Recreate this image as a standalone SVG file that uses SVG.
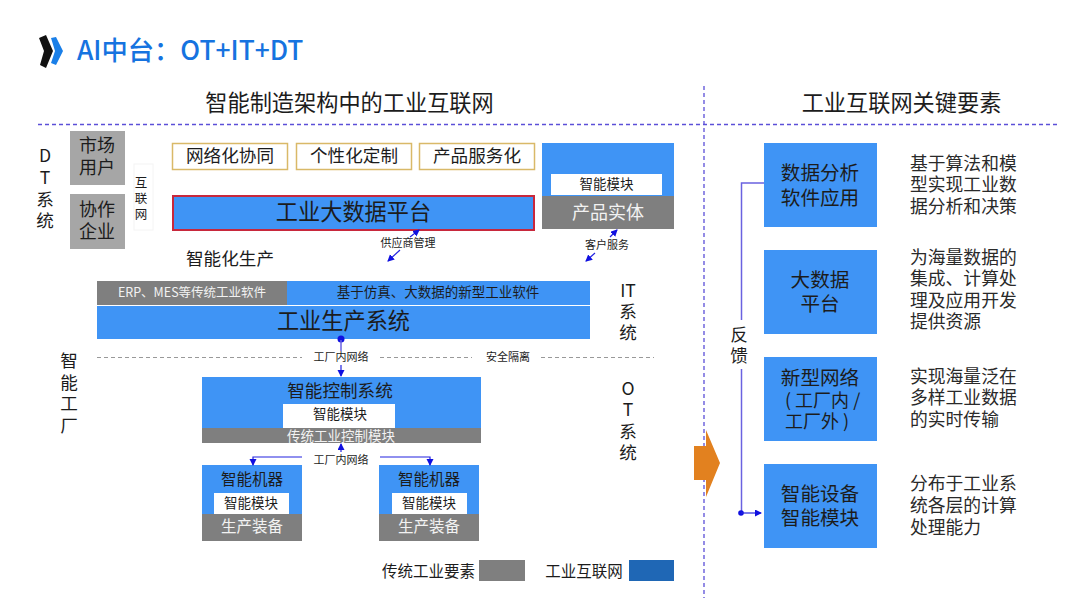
<svg xmlns="http://www.w3.org/2000/svg" width="1080" height="608" viewBox="0 0 1080 608">
<style>
text{font-family:"Noto Sans CJK SC","Noto Sans",sans-serif;fill:#1c1c1c;text-anchor:middle;dominant-baseline:central;transform:translateY(-1.8px)}
.blue{fill:#3f94f5}.gray{fill:#7f7f7f}.lg{fill:#a6a6a6}.white{fill:#fff}
.w{fill:#f2f2f2}
.opt{fill:#fff;stroke:#d9b968;stroke-width:1.5}
.s11{font-size:11px}.s12{font-size:12.5px}.s13{font-size:13.5px}.s15{font-size:15.5px}.s17{font-size:17.6px}.s18{font-size:18px}.s20{font-size:19.6px}.s22{font-size:22.2px}
.l{text-anchor:start;font-size:17.8px;fill:#2a2a2a}
.st{text-anchor:start}
.dash{fill:none;stroke:#5b4fd8;stroke-width:1.3;stroke-dasharray:4 3}
.gd{stroke:#999;stroke-width:1;stroke-dasharray:4 3;fill:none}
.c{fill:none;stroke:#2222e0;stroke-width:1.2}
.f{fill:none;stroke:#6a62e0;stroke-width:1.5}
</style>
<defs>
<marker id="a" markerWidth="8" markerHeight="8" refX="6" refY="3.5" orient="auto-start-reverse" markerUnits="userSpaceOnUse"><path d="M0 0L7 3.5L0 7Z" fill="#1010e0"/></marker>
</defs>
<g id="logo">
<path d="M39 38L46 35L53 51L46 68L40 65L44 51Z" fill="#111"/>
<path d="M51 38L56 37L63 51L56 65L51 63L55 51Z" fill="#1a7fe8"/>
</g>
<text x="77" y="50" class="st" style="font-size:26.3px;font-weight:500;fill:#1673e0">AI中台：OT+IT+DT</text>
<text x="349.500" y="103" class="s22">智能制造架构中的工业互联网</text>
<text x="901.500" y="103" class="s22">工业互联网关键要素</text>
<path class="dash" d="M38 124.500H1058M704 86V598"/>

<g id="dt-label"><text x="45" y="156" class="s17">D</text><text x="45" y="178" class="s17">T</text><text x="45" y="200" class="s17">系</text><text x="45" y="221" class="s17">统</text></g>
<g id="market"><rect class="lg" x="70" y="131" width="55" height="54"/><text x="97" y="146" class="s18">市场</text><text x="97" y="168" class="s18">用户</text></g>
<g id="partner"><rect class="lg" x="70" y="194" width="55" height="55"/><text x="97" y="210" class="s18">协作</text><text x="97" y="232" class="s18">企业</text></g>
<g id="internet"><rect x="134" y="164" width="19" height="66" fill="#fff" stroke="#f4f4f4"/><text x="141" y="183" class="s12">互</text><text x="141" y="199" class="s12">联</text><text x="141" y="215" class="s12">网</text></g>
<g id="collab"><rect class="opt" x="172.500" y="143.500" width="115" height="26"/><text x="230" y="156" class="s17">网络化协同</text></g>
<g id="custom"><rect class="opt" x="296.500" y="143.500" width="115" height="26"/><text x="354" y="156" class="s17">个性化定制</text></g>
<g id="service"><rect class="opt" x="419.500" y="143.500" width="115" height="26"/><text x="477" y="156" class="s17">产品服务化</text></g>
<g id="bigdata"><rect class="blue" x="173" y="196" width="361" height="34" stroke="#c8283c" stroke-width="2"/><text x="353.500" y="212" class="s22">工业大数据平台</text></g>
<g id="product"><rect class="blue" x="542" y="143" width="132" height="53"/><rect class="gray" x="542" y="196" width="132" height="33"/><rect class="white" x="551" y="174" width="111" height="21"/><text x="606.500" y="185" class="s13">智能模块</text><text x="608" y="213" class="s18 w">产品实体</text></g>
<text x="230" y="259" class="s17">智能化生产</text>

<g id="it"><rect class="gray" x="97" y="281" width="190" height="24"/><rect class="blue" x="287" y="281" width="303" height="24"/><rect class="blue" x="97" y="306" width="493" height="33"/>
<text x="192" y="293" class="w s12">ERP、MES等传统工业软件</text><text x="438" y="293" class="s13">基于仿真、大数据的新型工业软件</text><text x="343.500" y="321" class="s22">工业生产系统</text></g>
<g id="it-label"><text x="628" y="291" class="s17">IT</text><text x="628" y="312" class="s17">系</text><text x="628" y="333" class="s17">统</text></g>
<g id="ot-label"><text x="628" y="389" class="s17">O</text><text x="628" y="410" class="s17">T</text><text x="628" y="432" class="s17">系</text><text x="628" y="453" class="s17">统</text></g>
<g id="factory-label"><text x="69" y="361" class="s17">智</text><text x="69" y="383" class="s17">能</text><text x="69" y="404" class="s17">工</text><text x="69" y="426" class="s17">厂</text></g>
<g id="control"><rect class="blue" x="202" y="377" width="279" height="51"/><rect class="gray" x="202" y="428" width="279" height="15"/><rect class="white" x="283" y="404" width="112" height="24"/>
<text x="340" y="391" class="s17">智能控制系统</text><text x="340" y="415" class="s13">智能模块</text><text x="341" y="436.500" class="s13 w">传统工业控制模块</text></g>
<g id="machine1"><rect class="blue" x="202" y="465" width="100" height="49"/><rect class="gray" x="202" y="514" width="100" height="27"/><rect class="white" x="214" y="493" width="75" height="21"/><text x="252" y="480" class="s15">智能机器</text><text x="251" y="504" class="s13">智能模块</text><text x="252" y="527" class="s15 w">生产装备</text></g>
<g id="machine2"><rect class="blue" x="379" y="465" width="100" height="49"/><rect class="gray" x="379" y="514" width="100" height="27"/><rect class="white" x="392" y="493" width="75" height="21"/><text x="429" y="480" class="s15">智能机器</text><text x="429" y="504" class="s13">智能模块</text><text x="429" y="527" class="s15 w">生产装备</text></g>
<g id="legend"><text x="428.500" y="572" class="s15">传统工业要素</text><rect class="gray" x="479" y="560" width="46" height="21"/><text x="584" y="572" class="s15">工业互联网</text><rect x="629" y="560" width="45" height="21" fill="#1f67b5"/></g>
<path id="orange" d="M694 446H706V430L720 463L706 497V480H694Z" fill="#e2811f"/>

<g id="connectors">
<path class="gd" d="M97 357.500H302M380 357.500H472M541 357.500H654"/>
<path class="c" d="M410 237L419 230" marker-end="url(#a)"/><path class="c" d="M400 250L388 261" marker-end="url(#a)"/>
<path class="c" d="M610 237L617 230" marker-end="url(#a)"/><path class="c" d="M595 253L586 261" marker-end="url(#a)"/>
<circle cx="341" cy="339" r="3.500" fill="#1010e0"/>
<path class="f" d="M341 340V351"/><path class="c" d="M341 365V376" marker-end="url(#a)"/>
<path class="c" d="M341 452V444" marker-end="url(#a)"/>
<path class="c" d="M302 457H253V465" marker-end="url(#a)"/>
<path class="c" d="M380 457H430V465" marker-end="url(#a)"/>
<path class="f" d="M764 183H741.500V320"/><path class="f" d="M741.500 369V513"/>
<circle cx="741" cy="513" r="2.800" fill="#1010e0"/><path class="c" d="M741 513H761" marker-end="url(#a)"/>
</g>
<g id="feedback-label"><text x="739" y="335" class="s17">反</text><text x="739" y="356" class="s17">馈</text></g>

<g id="r1"><rect class="blue" x="764" y="143" width="113" height="84"/><text x="820" y="173" class="s20">数据分析</text><text x="820" y="198" class="s20">软件应用</text></g>
<g id="r2"><rect class="blue" x="764" y="250" width="113" height="84"/><text x="820" y="280" class="s20">大数据</text><text x="820" y="304" class="s20">平台</text></g>
<g id="r3"><rect class="blue" x="764" y="357" width="113" height="84"/><text x="820" y="378" class="s20">新型网络</text><text x="785" y="401" class="s18 st">( 工厂内 /</text><text x="785" y="422" class="s18 st">工厂外 )</text></g>
<g id="r4"><rect class="blue" x="764" y="464" width="113" height="84"/><text x="820" y="494" class="s20">智能设备</text><text x="820" y="518" class="s20">智能模块</text></g>
<g id="desc">
<text x="910" y="164" class="l">基于算法和模</text><text x="910" y="185" class="l">型实现工业数</text><text x="910" y="207" class="l">据分析和决策</text>
<text x="910" y="258" class="l">为海量数据的</text><text x="910" y="279" class="l">集成、计算处</text><text x="910" y="301" class="l">理及应用开发</text><text x="910" y="322" class="l">提供资源</text>
<text x="910" y="377" class="l">实现海量泛在</text><text x="910" y="398" class="l">多样工业数据</text><text x="910" y="420" class="l">的实时传输</text>
<text x="910" y="484" class="l">分布于工业系</text><text x="910" y="506" class="l">统各层的计算</text><text x="910" y="528" class="l">处理能力</text>
</g>
<g id="small-labels"><text x="408" y="244" class="s11">供应商管理</text><text x="607" y="246" class="s11">客户服务</text><text x="341" y="358" class="s11">工厂内网络</text><text x="508" y="358" class="s11">安全隔离</text><text x="341" y="461" class="s11">工厂内网络</text></g>
</svg>
